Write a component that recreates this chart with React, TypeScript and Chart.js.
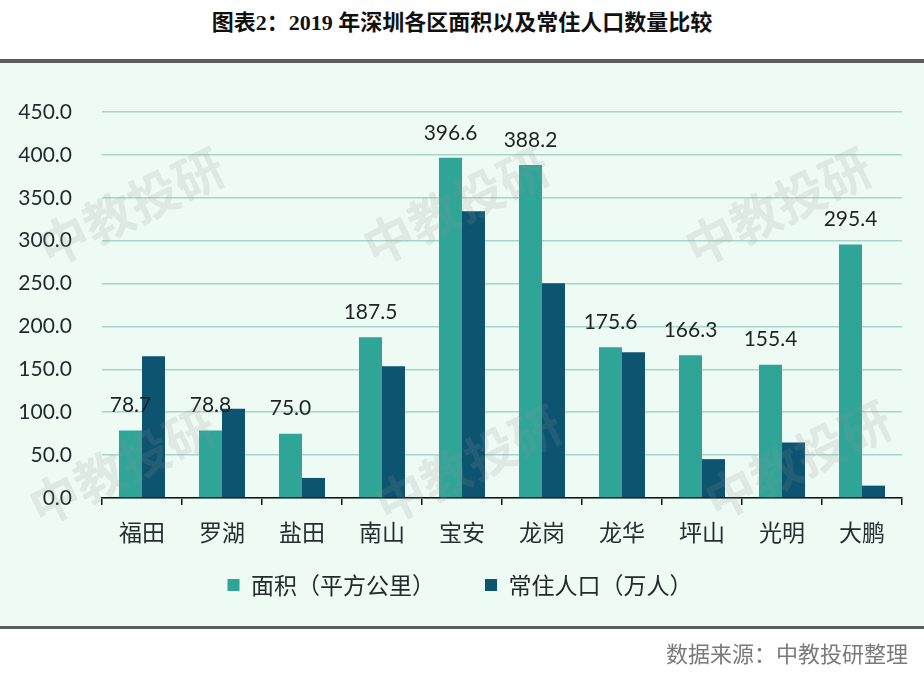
import React, { useEffect, useRef } from 'react';
import { Chart, registerables } from 'chart.js';

Chart.register(...registerables);

const chartTitle = '图表2：2019 年深圳各区面积以及常住人口数量比较';
const sourceNote = '数据来源：中教投研整理';
const watermarkText = '中教投研';

const districts = ['福田', '罗湖', '盐田', '南山', '宝安', '龙岗', '龙华', '坪山', '光明', '大鹏'];
const seriesNames = ['面积（平方公里）', '常住人口（万人）'];
const areaValues = [78.7, 78.8, 75.0, 187.5, 396.6, 388.2, 175.6, 166.3, 155.4, 295.4];
const populationValues = [165.3, 104.0, 23.4, 153.6, 334.2, 250.3, 170.0, 45.3, 64.7, 14.4];
const yMin = 0;
const yMax = 450;
const yStep = 50;

const TEAL = '#2fa597';
const NAVY = '#0c5470';
const CJK = '"Noto Sans CJK SC", sans-serif';
const NUM = 'Lato, "Open Sans", sans-serif';

const CANVAS_TOP = 63;
const CANVAS_H = 590;
const LEGEND_PAD = 50;
const LEGEND_FONT = 23;
const LEGEND_TEXT_Y = 522; // canvas coordinate of legend text centre
const LEGEND_SHIFT_X = 9;

const watermarkSpots: Array<[number, number]> = [
  [131, 207], [456, 206], [778, 207],
  [122, 466], [468, 464], [798, 460],
];

const valueLabelPlugin = {
  id: 'valueLabels',
  afterDatasetsDraw(chart: any) {
    const { ctx } = chart;
    const meta = chart.getDatasetMeta(0);
    const data = chart.data.datasets[0].data as number[];
    ctx.save();
    ctx.font = `21px ${NUM}`;
    ctx.fillStyle = '#1c2424';
    ctx.textAlign = 'center';
    ctx.textBaseline = 'middle';
    meta.data.forEach((bar: any, i: number) => {
      ctx.fillText(Number(data[i]).toFixed(1), bar.x, bar.y - 25);
    });
    ctx.restore();
  },
};

const legendShiftPlugin = {
  id: 'legendShift',
  afterLayout(chart: any) {
    const lg = chart.legend;
    if (!lg) return;
    const h = lg.bottom - lg.top;
    lg.top = LEGEND_TEXT_Y - LEGEND_FONT / 2 - LEGEND_PAD;
    lg.bottom = lg.top + h;
    lg.left += LEGEND_SHIFT_X;
    lg.right += LEGEND_SHIFT_X;
  },
};

const watermarkPlugin = {
  id: 'watermark',
  afterDraw(chart: any) {
    const { ctx } = chart;
    ctx.save();
    ctx.font = `bold 50px ${CJK}`;
    ctx.fillStyle = 'rgba(150,150,150,0.17)';
    ctx.textAlign = 'center';
    ctx.textBaseline = 'middle';
    watermarkSpots.forEach(([x, y]) => {
      ctx.save();
      ctx.translate(x, y - CANVAS_TOP);
      ctx.rotate((-26 * Math.PI) / 180);
      ctx.fillText(watermarkText, 0, 0);
      ctx.restore();
    });
    ctx.restore();
  },
};

function BarChart() {
  const ref = useRef<HTMLCanvasElement | null>(null);
  useEffect(() => {
    if (!ref.current) return;
    const chart = new Chart(ref.current, {
      type: 'bar',
      data: {
        labels: districts,
        datasets: [
          { label: seriesNames[0], data: areaValues, backgroundColor: TEAL, borderWidth: 0, categoryPercentage: 0.575, barPercentage: 1 },
          { label: seriesNames[1], data: populationValues, backgroundColor: NAVY, borderWidth: 0, categoryPercentage: 0.575, barPercentage: 1 },
        ],
      },
      options: {
        animation: false,
        responsive: false,
        maintainAspectRatio: false,
        layout: { padding: { left: 0, right: 22, top: 49, bottom: 25 } },
        plugins: {
          legend: {
            position: 'bottom',
            labels: {
              boxWidth: 12,
              boxHeight: 12,
              padding: LEGEND_PAD,
              color: '#222a2a',
              font: { size: LEGEND_FONT, family: CJK },
            },
          },
          tooltip: { enabled: false },
        },
        scales: {
          x: {
            grid: { offset: true, drawOnChartArea: false, drawTicks: true, tickLength: 7, color: '#111', lineWidth: 1.5 },
            border: { display: true, color: '#111', width: 1.5 },
            ticks: { color: '#243030', font: { size: 23, family: CJK }, padding: 13, maxRotation: 0 },
            afterFit: (s: any) => { s.height = 47; },
          },
          y: {
            min: yMin,
            max: yMax,
            ticks: {
              stepSize: yStep,
              color: '#1b2a2a',
              font: { size: 21, family: NUM },
              padding: 30,
              callback: (v: any) => Number(v).toFixed(1),
            },
            grid: { color: '#a6d6cb', lineWidth: 1.5, drawTicks: false },
            border: { display: false },
            afterFit: (s: any) => { s.width = 102; },
          },
        },
      },
      plugins: [valueLabelPlugin, legendShiftPlugin, watermarkPlugin],
    } as any);
    return () => chart.destroy();
  }, []);
  return <canvas ref={ref} width={924} height={CANVAS_H} style={{ display: 'block', width: 924, height: CANVAS_H }} />;
}

export default function App() {
  return (
    <div style={{ position: 'fixed', left: 0, top: 0, width: 924, height: 674, background: '#ffffff', overflow: 'hidden' }}>
      <div
        style={{
          position: 'absolute', left: 0, top: 0, width: 924, height: 46, lineHeight: '46px',
          textAlign: 'center', fontWeight: 'bold', fontSize: 22, color: '#111',
          fontFamily: '"Liberation Serif", "Noto Sans CJK SC", serif',
        }}
      >
        {chartTitle}
      </div>
      <div style={{ position: 'absolute', left: 0, top: 59, width: 924, height: 4, background: '#5c5c5c' }} />
      <div style={{ position: 'absolute', left: 0, top: CANVAS_TOP, width: 924, height: 563, background: '#eefaf4', overflow: 'visible' }}>
        <BarChart />
      </div>
      <div style={{ position: 'absolute', left: 0, top: 626, width: 924, height: 3, background: '#5c5c5c' }} />
      <div
        style={{
          position: 'absolute', right: 16, top: 638, height: 28, lineHeight: '28px',
          fontSize: 22, color: '#7a7a7a', fontFamily: CJK,
        }}
      >
        {sourceNote}
      </div>
    </div>
  );
}
